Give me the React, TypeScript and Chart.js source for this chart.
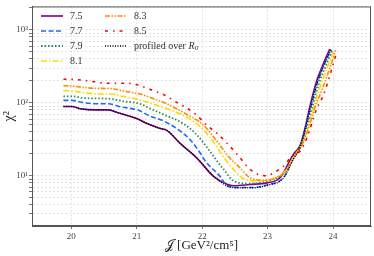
import React, { useEffect, useRef } from 'react';
import { Chart, registerables } from 'chart.js';

Chart.register(...registerables);

// ---- data ----
const j75 = [19.88, 20.01, 20.14, 20.39, 20.57, 20.72, 21.0, 21.16, 21.36, 21.46, 21.66, 21.92, 22.17, 22.38, 22.48, 22.73, 22.99, 23.19, 23.39, 23.5, 23.57, 23.65, 23.75, 23.85, 23.95];
const chi75 = [89, 89, 83, 80, 80, 73, 61, 52, 44.5, 42, 28, 17.5, 9.9, 7.65, 7.3, 7.6, 8.0, 9.4, 19.5, 26.6, 44.5, 92, 201, 340, 548];

const j77 = [19.88, 20.01, 20.2, 20.39, 20.57, 20.77, 21.02, 21.2, 21.4, 21.61, 21.82, 21.97, 22.05, 22.27, 22.38, 22.53, 22.78, 22.99, 23.24, 23.4, 23.5, 23.58, 23.66, 23.76, 23.87, 23.97];
const chi77 = [108, 108, 100, 97, 97, 87.5, 79.6, 66, 57, 44.5, 31, 20.5, 15.8, 9.9, 7.3, 6.9, 6.9, 7.5, 9.4, 17.5, 25, 45, 88, 190, 345, 535];

const j79 = [19.88, 20.01, 20.2, 20.4, 20.57, 20.8, 21.05, 21.2, 21.4, 21.71, 21.92, 22.12, 22.23, 22.33, 22.48, 22.73, 22.99, 23.2, 23.3, 23.4, 23.5, 23.6, 23.68, 23.78, 23.9, 23.99];
const chi79 = [123, 123, 116, 115, 114, 105, 97, 84, 70, 52, 36.3, 21.6, 15.8, 12.2, 8.5, 7.8, 8.5, 10, 12.5, 18, 25, 45, 85, 180, 340, 530];

const j81 = [19.88, 20.01, 20.2, 20.4, 20.6, 20.8, 21.05, 21.21, 21.46, 21.71, 21.97, 22.17, 22.3, 22.48, 22.63, 22.84, 23.04, 23.2, 23.3, 23.4, 23.5, 23.6, 23.7, 23.8, 23.92, 24.02];
const chi81 = [147, 146, 138, 132, 132, 122, 110, 99, 83, 67.6, 47, 29.4, 19.5, 12.2, 9.2, 8.5, 8.9, 10.3, 12.5, 18, 25, 40, 85, 165, 320, 525];

const j83 = [19.88, 20.01, 20.2, 20.4, 20.6, 20.8, 21.05, 21.21, 21.46, 21.77, 22.02, 22.23, 22.4, 22.58, 22.73, 22.94, 23.14, 23.3, 23.4, 23.5, 23.6, 23.72, 23.83, 23.95, 24.04];
const chi83 = [172, 170, 162, 158, 157, 145, 132, 118, 97, 69, 49.5, 29.4, 18.5, 12.8, 9.4, 8.7, 9.4, 12, 17.5, 24, 38, 85, 150, 300, 525];

const j85 = [19.88, 20.01, 20.24, 20.55, 20.85, 21.05, 21.21, 21.44, 21.56, 21.89, 22.07, 22.23, 22.38, 22.56, 22.71, 22.84, 22.99, 23.09, 23.24, 23.37, 23.5, 23.6, 23.75, 23.85, 23.97, 24.06];
const chi85 = [211, 210, 201, 186, 186, 172, 152, 126, 108, 71, 49.5, 38, 28, 18.5, 12.8, 10.6, 10, 11, 13.5, 18.5, 22, 33, 83, 126, 270, 511];

const jProf = [19.88, 20.01, 20.14, 20.39, 20.57, 20.72, 21.0, 21.16, 21.36, 21.46, 21.66, 21.92, 22.17, 22.38, 22.53, 22.78, 22.99, 23.24, 23.4, 23.5, 23.58, 23.66, 23.76, 23.87, 23.97];
const chiProf = [89, 89, 83, 80, 80, 73, 61, 52, 44.5, 42, 28, 17.5, 9.9, 7.3, 6.85, 6.85, 7.4, 9.3, 17.5, 25, 45, 88, 190, 345, 535];

const seriesLabels = ['7.5', '7.7', '7.9', '8.1', '8.3', '8.5', 'profiled over '];
const seriesJ = [j75, j77, j79, j81, j83, j85, jProf];
const seriesChi = [chi75, chi77, chi79, chi81, chi83, chi85, chiProf];

const xTickValues = [20, 21, 22, 23, 24];
const yTickValues = [3, 4, 5, 6, 7, 8, 9, 10, 20, 30, 40, 50, 60, 70, 80, 90, 100, 200, 300, 400, 500, 600, 700, 800, 900, 1000, 2000];
const yTickLabels: Record<number, string> = { 10: '10¹', 100: '10²', 1000: '10³' };

// ---- styles ----
const styles = [
  { color: '#800080', dash: [] as number[], width: 1.6 },
  { color: '#1f66ff', dash: [5, 2.5], width: 1.6 },
  { color: '#2e8b57', dash: [1.5, 2], width: 1.8 },
  { color: '#ffd700', dash: [6, 2, 1.5, 2], width: 1.6 },
  { color: '#ff8c00', dash: [5, 1.5, 1.5, 1.5, 1.5, 1.5], width: 1.6 },
  { color: '#ff0000', dash: [3, 5, 1.5, 5], width: 1.6 },
  { color: '#000000', dash: [1, 1.5], width: 1.4 },
];

const SERIF = '"Liberation Serif", "DejaVu Serif", serif';

const framePlugin = {
  id: 'frame',
  afterDraw(chart: any) {
    const { ctx, chartArea: a } = chart;
    ctx.save();
    ctx.strokeStyle = '#555';
    ctx.lineWidth = 1;
    ctx.setLineDash([]);
    ctx.strokeRect(a.left + 0.5, a.top + 0.5, a.right - a.left - 1, a.bottom - a.top - 1);
    ctx.restore();
  },
};

const legendPlugin = {
  id: 'customLegend',
  afterDatasetsDraw(chart: any) {
    const { ctx } = chart;
    const rows = [16, 31, 46, 61];
    const cols = [
      { x0: 41, x1: 63, tx: 70 },
      { x0: 105, x1: 127, tx: 134 },
    ];
    ctx.save();
    seriesLabels.forEach((label, i) => {
      const col = i < 4 ? cols[0] : cols[1];
      const y = rows[i < 4 ? i : i - 4];
      const st = styles[i];
      ctx.beginPath();
      ctx.setLineDash(st.dash);
      ctx.strokeStyle = st.color;
      ctx.lineWidth = st.width;
      ctx.moveTo(col.x0, y);
      ctx.lineTo(col.x1, y);
      ctx.stroke();
      ctx.setLineDash([]);
      ctx.fillStyle = '#333';
      ctx.textBaseline = 'middle';
      ctx.textAlign = 'left';
      ctx.font = `10px ${SERIF}`;
      ctx.fillText(label, col.tx, y);
      if (i === 6) {
        const w = ctx.measureText(label).width;
        ctx.font = `italic 10px ${SERIF}`;
        ctx.fillText('R', col.tx + w, y);
        const wr = ctx.measureText('R').width;
        ctx.font = `7px ${SERIF}`;
        ctx.fillText('0', col.tx + w + wr + 0.5, y + 2.5);
      }
    });
    ctx.restore();
  },
};

export default function App() {
  const canvasRef = useRef<HTMLCanvasElement | null>(null);

  useEffect(() => {
    const canvas = canvasRef.current;
    if (!canvas) return;
    const datasets = seriesLabels.map((label, i) => ({
      label,
      data: seriesJ[i].map((x, k) => ({ x, y: seriesChi[i][k] })),
      borderColor: styles[i].color,
      borderDash: styles[i].dash,
      borderWidth: styles[i].width,
      pointRadius: 0,
      fill: false,
      cubicInterpolationMode: 'monotone' as const,
      order: seriesLabels.length - i,
    }));
    const chart = new Chart(canvas, {
      type: 'line',
      data: { datasets },
      options: {
        responsive: false,
        animation: false,
        events: [],
        layout: { padding: { left: 0, right: 3, top: 3, bottom: 0 } },
        plugins: { legend: { display: false }, tooltip: { enabled: false } },
        scales: {
          x: {
            type: 'linear',
            min: 19.4,
            max: 24.58,
            afterBuildTicks: (s: any) => {
              s.ticks = xTickValues.map((v) => ({ value: v }));
            },
            afterFit: (s: any) => {
              s.height = 30;
            },
            ticks: {
              autoSkip: false,
              maxRotation: 0,
              padding: 2,
              color: '#444',
              font: { family: SERIF, size: 9 },
              callback: (v: any) => String(v),
            },
            grid: { color: '#dcdcdc', lineWidth: 0.8, tickLength: 3, tickColor: '#555' },
            border: { color: '#555', dash: [2, 2] },
            title: {
              display: true,
              text: '𝒥 [GeV²/cm⁵]',
              color: '#222',
              font: { family: SERIF, size: 13 },
              padding: { top: 0, bottom: 3 },
            },
          },
          y: {
            type: 'logarithmic',
            min: 2.05,
            max: 2100,
            afterBuildTicks: (s: any) => {
              s.ticks = yTickValues.map((v) => ({ value: v, major: !!yTickLabels[v] }));
            },
            afterFit: (s: any) => {
              s.width = 32;
            },
            ticks: {
              autoSkip: false,
              padding: 1,
              color: '#444',
              font: { family: SERIF, size: 9 },
              callback: (v: any) => yTickLabels[v as number] ?? '',
            },
            grid: { color: '#dcdcdc', lineWidth: 0.8, tickLength: 3, tickColor: '#555' },
            border: { color: '#555', dash: [2, 2] },
            title: {
              display: true,
              text: 'χ²',
              color: '#222',
              font: { family: SERIF, size: 14 },
              padding: { top: 1, bottom: 0 },
            },
          },
        },
      },
      plugins: [legendPlugin, framePlugin],
    });
    return () => chart.destroy();
  }, []);

  return (
    <div style={{ position: 'fixed', left: 0, top: 0, width: 374, height: 256, background: '#fff' }}>
      <canvas ref={canvasRef} width={374} height={256} style={{ display: 'block' }} />
    </div>
  );
}
